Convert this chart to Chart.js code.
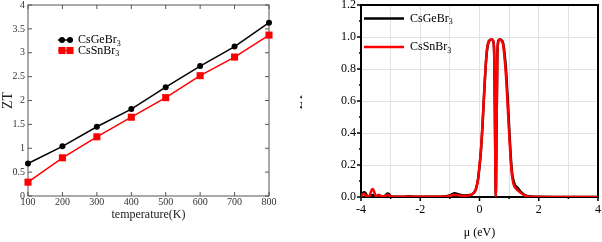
<!DOCTYPE html>
<html>
<head>
<meta charset="utf-8">
<script src="https://cdn.jsdelivr.net/npm/chart.js"></script>
<style>
  html, body { margin: 0; padding: 0; background: #fff; }
  #wrap { position: relative; width: 602px; height: 242px; overflow: hidden; }
  canvas { position: absolute; top: 0; }
  #temp-chart { left: 0; }
  #mu-chart { left: 300px; }
</style>
</head>
<body>
<div id="wrap">
  <canvas id="temp-chart" width="300" height="242"></canvas>
  <canvas id="mu-chart" width="302" height="242"></canvas>
</div>
<script>
// Left panel: ZT against temperature
const TEMPS = [100, 200, 300, 400, 500, 600, 700, 800];
const GE_TEMP_ZT = [0.68, 1.04, 1.45, 1.82, 2.28, 2.72, 3.13, 3.63];
const SN_TEMP_ZT = [0.29, 0.80, 1.24, 1.65, 2.06, 2.52, 2.91, 3.37];

// Right panel: ZT against chemical potential
const MU = [
  -4.0, -3.95, -3.9, -3.85, -3.8, -3.75, -3.7, -3.65, -3.6, -3.55,
  -3.5, -3.45, -3.4, -3.35, -3.3, -3.2, -3.15, -3.1, -3.05, -3.0,
  -2.9, -2.7, -2.5, -2.4, -2.3, -2.0, -1.5, -1.2, -1.0, -0.9,
  -0.85, -0.8, -0.7, -0.5, -0.3, -0.2, -0.12, -0.05, 0.0, 0.05,
  0.1, 0.15, 0.2, 0.25, 0.3, 0.35, 0.42, 0.47, 0.5, 0.53,
  0.55, 0.57, 0.6, 0.63, 0.68, 0.75, 0.8, 0.85, 0.9, 0.95,
  1.0, 1.05, 1.1, 1.15, 1.2, 1.3, 1.4, 1.5, 1.6, 1.8,
  2.0, 2.5, 3.0, 3.5, 4.0
];
const GE_MU_ZT = [
  0.01, 0.02, 0.03, 0.025, 0.008, 0.005, 0.006, 0.01, 0.012, 0.008,
  0.004, 0.008, 0.012, 0.008, 0.004, 0.006, 0.015, 0.022, 0.018, 0.006,
  0.002, 0.002, 0.002, 0.005, 0.003, 0.001, 0.001, 0.003, 0.01, 0.02,
  0.024, 0.022, 0.016, 0.01, 0.013, 0.025, 0.05, 0.11, 0.19, 0.29,
  0.44, 0.62, 0.79, 0.91, 0.965, 0.98, 0.985, 0.97, 0.86, 0.32,
  0.0, 0.3, 0.85, 0.97, 0.985, 0.98, 0.96, 0.89, 0.78, 0.62,
  0.44, 0.27, 0.15, 0.1, 0.075, 0.055, 0.03, 0.015, 0.006, 0.002,
  0.001, 0, 0, 0, 0
];
const SN_MU_ZT = [
  0.005, 0.015, 0.02, 0.012, 0.004, 0.003, 0.012, 0.04, 0.05, 0.03,
  0.006, 0.008, 0.012, 0.008, 0.004, 0.004, 0.01, 0.014, 0.01, 0.004,
  0.002, 0.002, 0.002, 0.002, 0.002, 0.001, 0.001, 0.002, 0.006, 0.012,
  0.014, 0.013, 0.01, 0.008, 0.012, 0.025, 0.05, 0.11, 0.2, 0.3,
  0.45, 0.63, 0.8, 0.92, 0.97, 0.98, 0.985, 0.97, 0.85, 0.3,
  0.0, 0.3, 0.85, 0.97, 0.985, 0.975, 0.95, 0.86, 0.74, 0.57,
  0.4, 0.24, 0.13, 0.08, 0.06, 0.04, 0.025, 0.012, 0.005, 0.001,
  0.0005, 0, 0, 0, 0
];

const SERIES_NAMES = ["CsGeBr3", "CsSnBr3"];
const SERIF = "'Liberation Serif', 'Times New Roman', serif";

function toPoints(xs, ys) {
  return xs.map((x, i) => ({ x, y: ys[i] }));
}

// draws "CsGeBr3" with the trailing digits as a subscript
function drawFormula(ctx, text, x, y, size) {
  const m = text.match(/^(.*?)(\d+)$/);
  const main = m ? m[1] : text;
  ctx.textAlign = "left";
  ctx.textBaseline = "middle";
  ctx.font = `${size}px ${SERIF}`;
  ctx.fillText(main, x, y);
  if (m) {
    const w = ctx.measureText(main).width;
    ctx.font = `${Math.round(size * 0.7)}px ${SERIF}`;
    ctx.fillText(m[2], x + w, y + size * 0.3);
  }
}

function drawMarker(ctx, style, r, x, y) {
  ctx.beginPath();
  if (style === "rect") {
    const h = r * Math.SQRT1_2;
    ctx.rect(x - h, y - h, 2 * h, 2 * h);
  } else {
    ctx.arc(x, y, r, 0, Math.PI * 2);
  }
  ctx.fill();
}

/* PLUGINS */

const axisFrame = {
  id: "axisFrame",
  beforeDatasetsDraw(chart, args, opts) {
    const { ctx, chartArea: a, scales: { x, y } } = chart;
    const dir = opts.inside ? -1 : 1;
    ctx.save();
    ctx.strokeStyle = opts.color;
    ctx.lineWidth = opts.frameWidth;
    ctx.strokeRect(a.left, a.top, a.right - a.left, a.bottom - a.top);

    ctx.lineWidth = opts.tickWidth;
    ctx.beginPath();
    x.ticks.forEach((t) => {
      const px = x.getPixelForValue(t.value);
      const len = t.label === "" ? opts.minor : opts.major;
      ctx.moveTo(px, a.bottom);
      ctx.lineTo(px, a.bottom + dir * len);
      if (opts.mirror) {
        ctx.moveTo(px, a.top);
        ctx.lineTo(px, a.top - dir * len);
      }
    });
    y.ticks.forEach((t) => {
      const py = y.getPixelForValue(t.value);
      const len = t.label === "" ? opts.minor : opts.major;
      ctx.moveTo(a.left, py);
      ctx.lineTo(a.left - dir * len, py);
      if (opts.mirror) {
        ctx.moveTo(a.right, py);
        ctx.lineTo(a.right + dir * len, py);
      }
    });
    ctx.stroke();
    ctx.restore();
  }
};

const seriesKey = {
  id: "seriesKey",
  afterDraw(chart, args, opts) {
    const ctx = chart.ctx;
    ctx.save();
    chart.data.datasets.forEach((ds, i) => {
      const y = opts.y + i * opts.rowGap;
      ctx.strokeStyle = ds.borderColor;
      ctx.lineWidth = ds.borderWidth;
      ctx.beginPath();
      ctx.moveTo(opts.x, y);
      ctx.lineTo(opts.x + opts.length, y);
      ctx.stroke();
      if (ds.pointRadius) {
        ctx.fillStyle = ds.backgroundColor;
        (opts.markers || []).forEach((dx) => {
          drawMarker(ctx, ds.pointStyle, ds.pointRadius, opts.x + dx, y);
        });
      }
      ctx.fillStyle = "#000";
      drawFormula(ctx, ds.label, opts.x + opts.length + opts.textGap, y, opts.size);
    });
    ctx.restore();
  }
};

/* LEFT CHART */

function buildTempConfig() {
  return {
    type: "line",
    data: {
      datasets: [
        {
          label: SERIES_NAMES[0],
          data: toPoints(TEMPS, GE_TEMP_ZT),
          borderColor: "#000",
          backgroundColor: "#000",
          borderWidth: 1.5,
          pointStyle: "circle",
          pointRadius: 3,
          pointBorderWidth: 0,
          clip: false
        },
        {
          label: SERIES_NAMES[1],
          data: toPoints(TEMPS, SN_TEMP_ZT),
          borderColor: "#f00",
          backgroundColor: "#f00",
          borderWidth: 1.5,
          pointStyle: "rect",
          pointRadius: 5,
          pointBorderWidth: 0,
          clip: false
        }
      ]
    },
    options: {
      responsive: false,
      animation: false,
      layout: { padding: { top: 5, right: 31, bottom: 0, left: 0 } },
      scales: {
        x: {
          type: "linear",
          min: 100,
          max: 800,
          afterFit: (s) => { s.height = 46; s.paddingLeft = 0; s.paddingRight = 0; },
          ticks: {
            stepSize: 100,
            padding: 0,
            color: "#333",
            font: { family: SERIF, size: 10 },
            maxRotation: 0
          },
          grid: { display: false, drawTicks: false },
          border: { display: false },
          title: {
            display: true,
            text: "temperature(K)",
            color: "#222",
            font: { family: SERIF, size: 12 },
            padding: { top: 0, bottom: 20 }
          }
        },
        y: {
          min: 0,
          max: 4,
          afterFit: (s) => { s.width = 28; s.paddingTop = 0; s.paddingBottom = 0; },
          ticks: {
            stepSize: 0.5,
            padding: 3,
            color: "#333",
            font: { family: SERIF, size: 10 },
            callback: (v) => String(v)
          },
          grid: { display: false, drawTicks: false },
          border: { display: false },
          title: {
            display: true,
            text: "ZT",
            color: "#222",
            font: { family: SERIF, size: 14 },
            padding: { top: 0, bottom: 0 }
          }
        }
      },
      plugins: {
        legend: { display: false },
        tooltip: { enabled: false },
        axisFrame: {
          color: "#555",
          frameWidth: 1,
          tickWidth: 1,
          major: 4,
          minor: 2,
          inside: true,
          mirror: true
        },
        seriesKey: {
          x: 58,
          y: 40,
          rowGap: 10.5,
          length: 15,
          markers: [4, 12],
          textGap: 5,
          size: 12
        }
      }
    },
    plugins: [axisFrame, seriesKey]
  };
}

/* RIGHT CHART */

function buildMuConfig() {
  return {
    type: "line",
    data: {
      datasets: [
        {
          label: SERIES_NAMES[0],
          data: toPoints(MU, GE_MU_ZT),
          borderColor: "#000",
          borderWidth: 2.5,
          pointRadius: 0,
          cubicInterpolationMode: "monotone",
          order: 1
        },
        {
          label: SERIES_NAMES[1],
          data: toPoints(MU, SN_MU_ZT),
          borderColor: "#f00",
          borderWidth: 2.5,
          pointRadius: 0,
          cubicInterpolationMode: "monotone",
          order: 0
        }
      ]
    },
    options: {
      responsive: false,
      animation: false,
      layout: { padding: { top: 5, right: 4, bottom: 0, left: 0 } },
      scales: {
        x: {
          type: "linear",
          min: -4,
          max: 4,
          afterFit: (s) => { s.height = 45; s.paddingLeft = 0; s.paddingRight = 0; },
          ticks: {
            stepSize: 1,
            autoSkip: false,
            padding: 6,
            color: "#000",
            font: { family: SERIF, size: 12 },
            maxRotation: 0,
            callback: (v) => (Math.round(v) % 2 === 0 ? String(v) : "")
          },
          grid: { color: "#e2e2e2", lineWidth: 1, drawTicks: false },
          border: { display: false },
          title: {
            display: true,
            text: "μ (eV)",
            color: "#000",
            font: { family: SERIF, size: 12 },
            padding: { top: 0, bottom: 2 }
          }
        },
        y: {
          min: 0,
          max: 1.2,
          afterFit: (s) => { s.width = 61; s.paddingTop = 0; s.paddingBottom = 0; },
          ticks: {
            stepSize: 0.1,
            autoSkip: false,
            padding: 5,
            color: "#000",
            font: { family: SERIF, size: 12 },
            callback: (v) => (Math.round(v * 10) % 2 === 0 ? v.toFixed(1) : "")
          },
          grid: {
            color: (c) => (c.tick && c.tick.label !== "" ? "#e2e2e2" : "rgba(0,0,0,0)"),
            lineWidth: 1,
            drawTicks: false
          },
          border: { display: false },
          title: {
            display: true,
            text: "ZT",
            color: "#000",
            font: { family: SERIF, size: 13 },
            padding: { top: -9, bottom: 0 }
          }
        }
      },
      plugins: {
        legend: { display: false },
        tooltip: { enabled: false },
        axisFrame: {
          color: "#000",
          frameWidth: 2,
          tickWidth: 1.5,
          major: 4,
          minor: 2,
          inside: false,
          mirror: false
        },
        seriesKey: {
          x: 64,
          y: 18.5,
          rowGap: 28.5,
          length: 40,
          markers: [],
          textGap: 6,
          size: 12
        }
      }
    },
    plugins: [axisFrame, seriesKey]
  };
}

/* INIT */

document.addEventListener("DOMContentLoaded", () => {
  new Chart(document.getElementById("temp-chart"), buildTempConfig());
  new Chart(document.getElementById("mu-chart"), buildMuConfig());
});
</script>
</body>
</html>
